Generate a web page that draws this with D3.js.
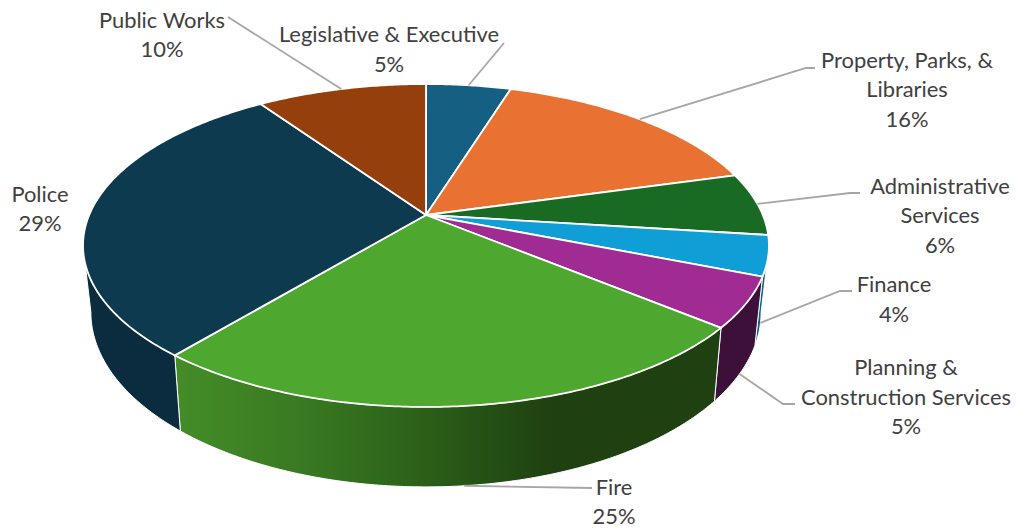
<!DOCTYPE html>
<html>
<head>
<meta charset="utf-8">
<style>
  html, body { margin: 0; padding: 0; background: #fff; }
  text { font-family: Lato, "Open Sans", sans-serif; font-size: 21.9px; fill: #404040; }
</style>
<script src="https://cdn.jsdelivr.net/npm/d3@7/dist/d3.min.js"></script>
</head>
<body>
<svg id="chart" width="1021" height="529"></svg>
<script>
// General Fund spending by department, clockwise from twelve o'clock.
const departments = ["Legislative & Executive", "Property, Parks, & Libraries", "Administrative Services", "Finance", "Planning & Construction Services", "Fire", "Police", "Public Works"];
const shares = [4.8, 15.9, 6.3, 4, 5, 25, 29.4, 9.6];
const topColors = ["#156082", "#E97132", "#196B24", "#0F9ED5", "#A02B93", "#4EA72E", "#0D3A4E", "#953F0C"];
const wallColors = ["#0c3f58", "#8a431e", "#0f4016", "#0e5f85", "#3d103a", "#1f4010", "#0b2c3f", "#5a2608"];

// Wrapped label text for each department.
const labelLines = [
  ["Legislative & Executive"],
  ["Property, Parks, &", "Libraries"],
  ["Administrative", "Services"],
  ["Finance"],
  ["Planning &", "Construction Services"],
  ["Fire"],
  ["Police"],
  ["Public Works"]
];

// Placement of the text blocks and the elbows of their leader lines.
const labelAnchor = [[389, 35], [907, 60.5], [940, 186.5], [894, 285], [906, 368], [614, 487.5], [40, 194.5], [162, 20.5]];
const leaderBends = [
  [[504, 43]],
  [[806, 68], [815, 68]],
  [[850, 193], [860, 193]],
  [[840, 291], [852, 291]],
  [[783, 404], [795, 404]],
  [[592, 488]],
  null,
  [[228, 17]]
];

// The disc is tilted towards the viewer: each rim is a perspective view of a circle.
const topRim = { cx: 426, cy: 215, a: 336.8, b: 155.7, k: 0.1888 };
const bottomRim = { cx: 426, cy: 279, a: 329, b: 168.4, k: 0.19 };

function project(angle, rim) {
  const X = Math.sin(angle), Y = -Math.cos(angle), w = 1 - rim.k * Y;
  return [rim.cx + rim.a * X / w, rim.cy + rim.b * Y / w];
}

const arcs = d3.pie().sort(null).value(d => d)(shares);
const slices = arcs.map((d, i) => ({ ...d, name: departments[i], i }));

const svg = d3.select("#chart");
const defs = svg.append("defs");
const pathOf = d3.line();

function arcPoints(a0, a1, rim) {
  const n = Math.max(2, Math.ceil(Math.abs(a1 - a0) / 0.01));
  return d3.range(n + 1).map(j => project(a0 + (a1 - a0) * j / n, rim));
}

// Only the fire wall carries a visible horizontal light falloff.
const fireShade = defs.append("linearGradient")
  .attr("id", "fireShade")
  .attr("gradientUnits", "userSpaceOnUse")
  .attr("x1", 180).attr("x2", 714).attr("y1", 0).attr("y2", 0);
[[0, "#438c28"], [0.22, "#3a7a22"], [0.38, "#2f691c"], [0.7, "#1f4010"], [1, "#1f4010"]]
  .forEach(([o, c]) => fireShade.append("stop").attr("offset", o).attr("stop-color", c));

// The wall is visible between the rim's two silhouette points.
const silhouette = Math.acos(-bottomRim.k);
const walls = slices
  .map(s => ({ ...s, a0: Math.max(s.startAngle, silhouette), a1: Math.min(s.endAngle, 2 * Math.PI - silhouette) }))
  .filter(s => s.a1 > s.a0);

svg.append("g").selectAll("path").data(walls).join("path")
  .attr("d", s => pathOf(arcPoints(s.a0, s.a1, topRim).concat(arcPoints(s.a1, s.a0, bottomRim))) + "Z")
  .attr("fill", s => s.name === "Fire" ? "url(#fireShade)" : wallColors[s.i])
  .attr("stroke", "#fff")
  .attr("stroke-width", 1)
  .attr("stroke-linejoin", "round");

// Top faces over the walls.
svg.append("g").selectAll("path").data(slices).join("path")
  .attr("d", s => pathOf([[topRim.cx, topRim.cy]].concat(arcPoints(s.startAngle, s.endAngle, topRim))) + "Z")
  .attr("fill", s => topColors[s.i])
  .attr("stroke", "#fff")
  .attr("stroke-width", 1.8)
  .attr("stroke-linejoin", "round");

// Leader lines start on whichever rim faces the viewer at the slice's mid-angle.
function leaderStart(s) {
  const mid = (s.startAngle + s.endAngle) / 2;
  const onWall = mid > Math.PI / 2 && mid < 3 * Math.PI / 2;
  return project(mid, onWall ? bottomRim : topRim);
}

svg.append("g").selectAll("path").data(slices.filter(s => leaderBends[s.i])).join("path")
  .attr("d", s => pathOf([leaderStart(s)].concat(leaderBends[s.i])))
  .attr("fill", "none")
  .attr("stroke", "#a6a6a6")
  .attr("stroke-width", 1.8);

// Department name and rounded share, centred on each anchor.
const percent = d3.format(".0f");
const lineStep = 29.6;
const labels = svg.append("g").selectAll("text").data(slices).join("text")
  .attr("text-anchor", "middle");
labels.each(function (s) {
  const [x, y] = labelAnchor[s.i];
  const lines = labelLines[s.i].concat(percent(shares[s.i]) + "%");
  d3.select(this).selectAll("tspan").data(lines).join("tspan")
    .attr("x", x)
    .attr("y", (_, j) => y + j * lineStep + 7)
    .text(d => d);
});
</script>
</body>
</html>
